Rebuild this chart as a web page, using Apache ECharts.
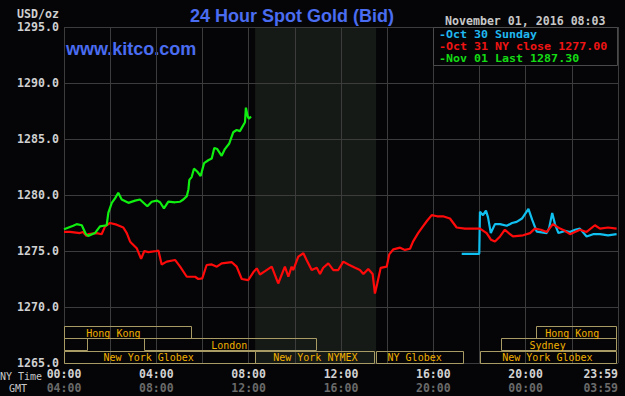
<!DOCTYPE html>
<html><head><meta charset="utf-8">
<script src="https://cdn.jsdelivr.net/npm/echarts@6/dist/echarts.min.js"></script>
<style>html,body{margin:0;padding:0;background:#050507;}#c{width:625px;height:396px;}</style>
</head><body><div id="c"></div>
<script>
// ---- data ----
const tickHours = [0, 4, 8, 12, 16, 20, 24];
const nyTimeLabels = ['00:00', '04:00', '08:00', '12:00', '16:00', '20:00', '23:59'];
const gmtLabels = ['04:00', '08:00', '12:00', '16:00', '20:00', '00:00', '03:59'];

// [hour of NY day, price]
const oct30 = [[17.23,1274.75],[17.99,1274.75],[18.02,1278.5],[18.15,1278.2],[18.28,1278.6],[18.37,1278.0],[18.49,1276.6],[18.67,1277.4],[18.89,1277.4],[19.18,1277.25],[19.41,1277.5],[19.61,1277.6],[19.84,1277.9],[20.12,1278.76],[20.28,1277.8],[20.48,1276.73],[20.91,1276.6],[21.01,1277.0],[21.15,1278.4],[21.27,1277.4],[21.42,1276.6],[21.70,1276.8],[21.92,1276.7],[22.14,1276.9],[22.35,1277.0],[22.64,1276.3],[22.92,1276.5],[23.22,1276.5],[23.57,1276.4],[23.94,1276.5]];
const oct31 = [[0,1276.7],[0.26,1276.7],[0.69,1276.6],[0.82,1276.7],[0.98,1276.35],[1.05,1276.5],[1.42,1276.6],[1.63,1276.5],[1.78,1277.2],[1.99,1277.5],[2.28,1277.35],[2.57,1277.1],[2.72,1276.6],[2.86,1275.85],[2.93,1275.7],[3.15,1275.25],[3.34,1274.3],[3.48,1275.0],[3.65,1274.9],[4.02,1275.0],[4.09,1275.05],[4.23,1273.8],[4.45,1274.05],[4.81,1274.2],[5.03,1273.6],[5.32,1272.7],[5.68,1272.7],[5.82,1272.5],[5.99,1272.55],[6.18,1273.75],[6.40,1273.8],[6.62,1273.6],[6.83,1273.9],[7.27,1274.0],[7.48,1273.6],[7.70,1272.5],[7.98,1272.4],[8.20,1273.1],[8.35,1273.45],[8.49,1272.9],[8.71,1273.2],[9.00,1273.6],[9.28,1272.1],[9.57,1273.6],[9.72,1272.7],[9.86,1273.6],[9.93,1273.3],[10.15,1274.5],[10.37,1274.8],[10.51,1274.2],[10.73,1273.3],[10.95,1273.5],[11.09,1272.95],[11.23,1273.5],[11.45,1273.9],[11.67,1273.3],[11.88,1273.3],[12.10,1274.05],[12.32,1273.8],[12.61,1273.5],[12.82,1273.3],[12.97,1272.95],[13.18,1273.4],[13.37,1272.95],[13.47,1271.2],[13.57,1272.1],[13.72,1273.5],[13.98,1273.6],[14.09,1274.7],[14.27,1275.15],[14.56,1275.3],[14.77,1275.1],[14.99,1275.2],[15.12,1275.84],[15.34,1276.6],[15.55,1277.2],[15.73,1277.7],[15.93,1278.2],[16.16,1278.1],[16.42,1278.1],[16.72,1277.9],[17.01,1277.1],[17.37,1277.0],[18.02,1277.0],[18.31,1276.6],[18.50,1276.0],[18.67,1275.84],[18.89,1276.3],[19.10,1276.9],[19.32,1276.5],[19.45,1276.3],[19.89,1276.4],[20.19,1276.6],[20.40,1277.0],[20.66,1276.9],[20.91,1276.7],[21.18,1277.4],[21.49,1277.0],[21.70,1276.8],[21.92,1276.5],[22.35,1276.9],[22.64,1276.7],[23.00,1277.3],[23.22,1277.0],[23.57,1277.1],[23.94,1277.0]];
const nov01 = [[0,1276.95],[0.40,1277.25],[0.55,1277.4],[0.77,1277.3],[0.95,1276.5],[1.05,1276.35],[1.34,1276.6],[1.56,1277.2],[1.85,1277.3],[1.92,1278.4],[2.07,1279.3],[2.21,1279.7],[2.35,1280.2],[2.50,1279.6],[2.79,1279.3],[3.08,1279.5],[3.29,1279.6],[3.61,1279.0],[3.80,1279.4],[4.02,1279.5],[4.16,1279.35],[4.33,1278.8],[4.52,1279.4],[4.81,1279.35],[5.03,1279.4],[5.17,1279.6],[5.32,1279.9],[5.39,1280.5],[5.43,1281.35],[5.53,1281.6],[5.63,1282.35],[5.77,1282.1],[5.92,1281.7],[6.07,1282.85],[6.25,1283.1],[6.40,1283.25],[6.51,1284.2],[6.64,1284.1],[6.83,1283.5],[6.97,1284.1],[7.16,1284.6],[7.33,1285.6],[7.48,1285.8],[7.62,1285.7],[7.84,1286.5],[7.88,1287.8],[7.96,1287.0],[8.01,1286.8],[8.10,1287.0]];

// market sessions (NY hours)
const marketNames  = ['Hong Kong', '', 'London', 'New York Globex', 'New York NYMEX', 'NY Globex', 'New York Globex', 'Sydney', 'Hong Kong'];
const marketStart  = [0,    0,    3.48,  0,    8.28,  13.52, 18.0,  18.95, 20.45];
const marketEnd    = [5.49, 0.98, 10.93, 8.26, 13.45, 17.3,  23.9,  23.92, 23.92];
const marketRow    = [2,    1,    1,     0,    0,     0,     0,     1,     2];
const marketLabelAt= [2.14, 0,    7.16,  3.67, 10.89, 15.19, 20.94, 20.95, 22.02];
const nymexShade = [8.28, 13.52];

const legendTexts = ['-Oct 30 Sunday', '-Oct 31 NY close 1277.00', '-Nov 01 Last 1287.30'];
const legendColors = ['#20b8f0', '#f01414', '#14dc14'];
const stampText = 'November 01, 2016 08:03';

// ---- chart ----
const chart = echarts.init(document.getElementById('c'), null, {renderer: 'svg'});
const mono = '"DejaVu Sans Mono", "Liberation Mono", monospace';
const YMIN = 1265, YMAX = 1295;

const marketData = marketStart.map((s, i) => [s, marketEnd[i], marketRow[i], marketLabelAt[i]]);

const legendGraphics = legendTexts.map((t, i) => ({
  type: 'text', z: 51, x: 439, y: 34.3 + i * 12.2, scaleX: 1.11,
  style: {text: t, x: 0, y: 0, align: 'left', verticalAlign: 'middle',
    fill: legendColors[i], font: 'bold 10.5px ' + mono}
}));

chart.setOption({
  animation: false,
  backgroundColor: '#050507',
  grid: {left: 64, right: 7, top: 27, bottom: 33},
  xAxis: {
    type: 'value', min: 0, max: 24, interval: 2,
    axisLine: {show: false}, axisTick: {show: false},
    splitLine: {show: true, lineStyle: {color: '#3c3c3c', width: 1}},
    axisLabel: {
      margin: 4, showMinLabel: true, showMaxLabel: true, alignMaxLabel: 'right',
      formatter: v => {
        const i = tickHours.indexOf(v);
        if (i < 0) return '';
        return '{a|' + nyTimeLabels[i] + '}\n{b|' + gmtLabels[i] + '}';
      },
      rich: {
        a: {color: '#d2d2d2', fontFamily: mono, fontSize: 11.5, fontWeight: 'bold', lineHeight: 14},
        b: {color: '#6a6a6a', fontFamily: mono, fontSize: 11.5, fontWeight: 'bold', lineHeight: 14}
      }
    }
  },
  yAxis: {
    type: 'value', min: YMIN, max: YMAX, interval: 5,
    axisLine: {show: false}, axisTick: {show: false},
    splitLine: {show: true, lineStyle: {color: '#3c3c3c', width: 1}},
    axisLabel: {margin: 5, color: '#d0d0d0', fontFamily: mono, fontSize: 11.6, fontWeight: 'bold',
      formatter: v => v.toFixed(1)}
  },
  series: [
    {
      type: 'custom', name: 'nymex', z: -1, silent: true,
      data: [nymexShade],
      renderItem: (params, api) => {
        const a = api.coord([api.value(0), YMAX]);
        const b = api.coord([api.value(1), YMIN]);
        return {type: 'rect', shape: {x: a[0], y: a[1], width: b[0] - a[0], height: b[1] - a[1]},
          style: {fill: '#161a16'}};
      }
    },
    {type: 'line', name: 'Oct 30', data: oct30, showSymbol: false, symbol: 'none',
      lineStyle: {color: '#10c0f0', width: 2.2}, itemStyle: {color: '#10c0f0'}, z: 3},
    {type: 'line', name: 'Oct 31', data: oct31, showSymbol: false, symbol: 'none',
      lineStyle: {color: '#ff0a0a', width: 2.2}, itemStyle: {color: '#ff0a0a'}, z: 4},
    {type: 'line', name: 'Nov 01', data: nov01, showSymbol: false, symbol: 'none',
      lineStyle: {color: '#10f010', width: 2.2}, itemStyle: {color: '#10f010'}, z: 5},
    {
      type: 'custom', name: 'markets', z: 6, silent: true,
      data: marketData,
      renderItem: (params, api) => {
        const i = params.dataIndex;
        const x0 = api.coord([api.value(0), YMIN])[0];
        const x1 = api.coord([api.value(1), YMIN])[0];
        const yb = api.coord([0, YMIN])[1];
        const h = 12.4;
        const row = api.value(2);
        const top = yb - (row + 1) * h;
        const children = [{
          type: 'rect',
          shape: {x: Math.round(x0) + 0.5, y: Math.round(top) + 0.5, width: Math.round(x1 - x0), height: Math.round(h)},
          style: {fill: 'none', stroke: '#a89c64', lineWidth: 1}
        }];
        if (marketNames[i]) {
          children.push({type: 'text', style: {
            text: marketNames[i], x: api.coord([api.value(3), YMIN])[0], y: top + h / 2 + 1,
            align: 'center', verticalAlign: 'middle', fill: '#f0b000',
            font: '10px ' + mono}});
        }
        return {type: 'group', children};
      }
    }
  ],
  graphic: [
    {type: 'text', style: {text: '24 Hour Spot Gold (Bid)', x: 292, y: 16, align: 'center', verticalAlign: 'middle',
      fill: '#4a6cf0', font: 'bold 18px "Liberation Sans", Arial, sans-serif'}},
    {type: 'text', style: {text: 'www.kitco.com', x: 66, y: 49, align: 'left', verticalAlign: 'middle',
      fill: '#4a6cf0', font: 'bold 18px "Liberation Sans", Arial, sans-serif'}},
    {type: 'text', style: {text: 'USD/oz', x: 59, y: 14, align: 'right', verticalAlign: 'middle',
      fill: '#d0d0d0', font: 'bold 11.6px ' + mono}},
    {type: 'text', style: {text: stampText, x: 445, y: 20.5, align: 'left', verticalAlign: 'middle',
      fill: '#c8c8c8', font: 'bold 11.6px ' + mono}},
    {type: 'rect', shape: {x: 433.5, y: 27.5, width: 184, height: 38},
      style: {fill: '#050507', stroke: '#4a4a4a', lineWidth: 1}, z: 50},
    ...legendGraphics,
    {type: 'text', style: {text: 'NY Time', x: 0, y: 376, align: 'left', verticalAlign: 'middle',
      fill: '#c8c8c8', font: '10px ' + mono}},
    {type: 'text', style: {text: 'GMT', x: 9, y: 388, align: 'left', verticalAlign: 'middle',
      fill: '#c8c8c8', font: '10px ' + mono}}
  ]
});
</script></body></html>
